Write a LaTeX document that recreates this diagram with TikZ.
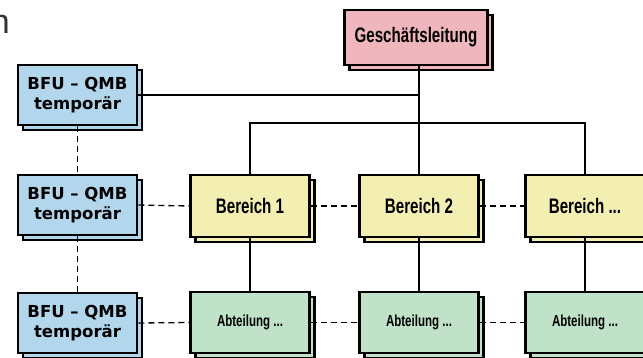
\documentclass[tikz,border=0pt]{standalone}
\usepackage{fontspec}
\setmainfont{Liberation Sans}
\newfontfamily\condfont[FakeStretch=0.72]{Liberation Sans}
\newfontfamily\bfufont{DejaVu Sans}
\usetikzlibrary{shadows}

\definecolor{glpink}{RGB}{240,182,190}
\definecolor{bfublue}{RGB}{178,214,236}
\definecolor{beryellow}{RGB}{243,238,178}
\definecolor{abtgreen}{RGB}{192,226,200}

\tikzset{
    orgbox/.style={draw=black, line width=2.7pt, inner sep=2pt, align=center,
        minimum width=119pt, minimum height=61pt,
        copy shadow={shadow xshift=5pt, shadow yshift=-5pt}},
    glbox/.style={orgbox, fill=glpink, minimum width=143pt, minimum height=55pt,
        font=\condfont\bfseries\fontsize{21}{23}\selectfont},
    bfubox/.style={orgbox, fill=bfublue, minimum height=60pt,
        font=\bfufont\bfseries\fontsize{16.5}{20}\selectfont},
    berbox/.style={orgbox, fill=beryellow, minimum height=62pt,
        font=\condfont\bfseries\fontsize{21}{23}\selectfont},
    abtbox/.style={orgbox, fill=abtgreen,
        font=\condfont\bfseries\fontsize{16}{18}\selectfont},
    line/.style={line width=2.7pt},
    dline/.style={line width=1.3pt, dash pattern=on 6pt off 4pt}
}

\begin{document}
\begin{tikzpicture}[x=1pt,y=-1pt]
    \useasboundingbox (0,0) rectangle (643,357);

    % clipped word at the left edge
    \node[anchor=base east, inner sep=0pt, text=black!80,
          font=\fontsize{34}{36}\selectfont] (cut) at (10,33) {n};

    % top
    \node[glbox] (gl) at (416,37.5) {Geschäftsleitung};

    % BFU column
    \node[bfubox] (bfu1) at (77.5,95) {BFU – QMB\\temporär};
    \node[bfubox] (bfu2) at (77.5,205) {BFU – QMB\\temporär};
    \node[bfubox] (bfu3) at (77.5,323) {BFU – QMB\\temporär};

    % Bereiche
    \node[berbox] (b1) at (250,206) {Bereich 1};
    \node[berbox] (b2) at (419,206) {Bereich 2};
    \node[berbox] (b3) at (585,206) {Bereich ...};

    % Abteilungen
    \node[abtbox] (a1) at (250,322.5) {Abteilung ...};
    \node[abtbox] (a2) at (419,322.5) {Abteilung ...};
    \node[abtbox] (a3) at (585,322.5) {Abteilung ...};

    % solid connectors
    \coordinate (bus) at (419,123);
    \draw[line] (gl.south -| b2.north) -- (b2.north);
    \draw[line] (bfu1.east) -- (bfu1.east -| b2.north);
    \draw[line] (b1.north) |- (bus) -| (b3.north);
    \draw[line] (b1.south) -- (a1.north);
    \draw[line] (b2.south) -- (a2.north);
    \draw[line] (b3.south) -- (a3.north);

    % dashed connectors
    \draw[dline] (bfu1.south) -- (bfu2.north);
    \draw[dline] (bfu2.south) -- (bfu3.north);
    \draw[dline] (bfu2.east) -- (b1.west);
    \draw[dline] (b1.east) -- (b2.west);
    \draw[dline] (b2.east) -- (b3.west);
    \draw[dline] (bfu3.east) -- (a1.west);
    \draw[dline] (a1.east) -- (a2.west);
    \draw[dline] (a2.east) -- (a3.west);
\end{tikzpicture}
\end{document}
